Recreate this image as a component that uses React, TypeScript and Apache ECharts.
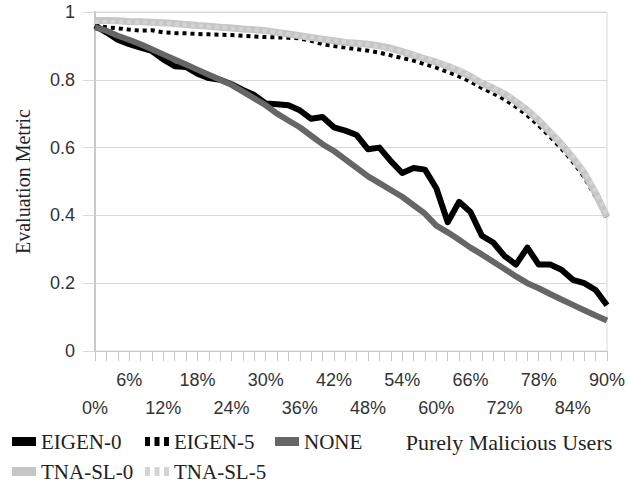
import React, { useEffect, useRef } from "react";
import * as echarts from "echarts";

const categories = [
  "0%", "2%", "4%", "6%", "8%", "10%", "12%", "14%", "16%", "18%",
  "20%", "22%", "24%", "26%", "28%", "30%", "32%", "34%", "36%", "38%",
  "40%", "42%", "44%", "46%", "48%", "50%", "52%", "54%", "56%", "58%",
  "60%", "62%", "64%", "66%", "68%", "70%", "72%", "74%", "76%", "78%",
  "80%", "82%", "84%", "86%", "88%", "90%",
];

const eigen0 = [
  0.96, 0.94, 0.918, 0.905, 0.895, 0.885, 0.86, 0.84, 0.838, 0.818,
  0.805, 0.8, 0.787, 0.77, 0.755, 0.73, 0.728, 0.725, 0.71, 0.685,
  0.69, 0.66, 0.65, 0.637, 0.595, 0.6, 0.56, 0.525, 0.54, 0.535,
  0.48, 0.38, 0.44, 0.41, 0.34, 0.32, 0.28, 0.255, 0.305, 0.255,
  0.255, 0.24, 0.21, 0.2, 0.18, 0.135,
];

const eigen5 = [
  0.96, 0.955, 0.952, 0.948, 0.945, 0.946, 0.94, 0.938, 0.937, 0.935,
  0.934, 0.933, 0.932, 0.93, 0.928, 0.926, 0.925, 0.924, 0.922, 0.915,
  0.905, 0.9, 0.895, 0.89, 0.886, 0.88, 0.872, 0.864, 0.857, 0.846,
  0.836, 0.823, 0.81, 0.795, 0.776, 0.76, 0.742, 0.72, 0.695, 0.665,
  0.632, 0.597, 0.558, 0.513, 0.455, 0.395,
];

const none = [
  0.955, 0.945, 0.93, 0.918, 0.905, 0.89, 0.875, 0.86, 0.845, 0.83,
  0.815, 0.8, 0.785, 0.765, 0.745, 0.725, 0.7, 0.68, 0.66, 0.635,
  0.61, 0.59, 0.565, 0.54, 0.515, 0.495, 0.475, 0.455, 0.43, 0.405,
  0.37, 0.35, 0.328, 0.305, 0.285, 0.263, 0.242, 0.22, 0.2, 0.185,
  0.168, 0.152, 0.136, 0.12, 0.105, 0.09,
];

const tnaSl0 = [
  0.975, 0.975, 0.974, 0.972, 0.971, 0.97, 0.968, 0.966, 0.963, 0.96,
  0.958, 0.955, 0.953, 0.95, 0.948, 0.945, 0.94, 0.935, 0.93, 0.925,
  0.92, 0.915, 0.91, 0.908, 0.905, 0.9, 0.893, 0.883, 0.873, 0.862,
  0.852, 0.84, 0.826, 0.81, 0.79, 0.775, 0.758, 0.735, 0.71, 0.68,
  0.645, 0.61, 0.57, 0.525, 0.465, 0.395,
];

const tnaSl5 = [
  0.97, 0.972, 0.971, 0.97, 0.97, 0.968, 0.967, 0.965, 0.962, 0.96,
  0.957, 0.955, 0.952, 0.95, 0.947, 0.944, 0.94, 0.935, 0.93, 0.926,
  0.92, 0.916, 0.912, 0.908, 0.904, 0.898, 0.892, 0.884, 0.875, 0.864,
  0.855, 0.843, 0.83, 0.812, 0.795, 0.778, 0.76, 0.74, 0.713, 0.685,
  0.65, 0.612, 0.575, 0.53, 0.47, 0.4,
];

const yTicks = { min: 0, max: 1, interval: 0.2 };
const labelEvery = 3;

const SERIF = "'Liberation Serif', 'DejaVu Serif', serif";
const SANS = "'Liberation Sans', Arial, sans-serif";
const DOTS = "path://M0,0h5v9h-5z M9.5,0h5v9h-5z M19,0h5v9h-5z";

export default function App() {
  const ref = useRef<HTMLDivElement>(null);

  useEffect(() => {
    if (!ref.current) return;
    const chart = echarts.init(ref.current, undefined, { renderer: "svg" });

    const legendText = { fontFamily: SERIF, fontSize: 21, color: "#222" };
    const mkLegend = (name: string, icon: string, left: number, top: number) => ({
      data: [{ name, icon }],
      left,
      top,
      itemWidth: 24,
      itemHeight: 9,
      itemGap: 0,
      padding: 0,
      textStyle: legendText,
      itemStyle: { borderWidth: 0 },
    });

    const mkLine = (name: string, data: number[], color: string, width: number, dotted: boolean) => ({
      name,
      type: "line",
      data,
      color,
      symbol: "none",
      lineStyle: {
        color,
        width,
        type: dotted ? [4, 4] : "solid",
        cap: "butt",
        join: "round",
      },
    });

    chart.setOption({
      animation: false,
      backgroundColor: "#ffffff",
      grid: {
        left: 95,
        right: 22,
        top: 12,
        bottom: 132,
        show: true,
        borderColor: "#d9d9d9",
        borderWidth: 1,
        backgroundColor: "transparent",
      },
      legend: [
        mkLegend("EIGEN-0", "rect", 12, 431),
        mkLegend("EIGEN-5", DOTS, 145, 431),
        mkLegend("NONE", "rect", 275, 431),
        mkLegend("TNA-SL-0", "rect", 12, 461),
        mkLegend("TNA-SL-5", DOTS, 145, 461),
      ],
      xAxis: {
        type: "category",
        data: categories,
        boundaryGap: false,
        name: "Purely Malicious Users",
        nameLocation: "middle",
        nameGap: 80,
        nameTextStyle: {
          fontFamily: SERIF,
          fontSize: 22,
          color: "#222",
          padding: [0, 0, 0, 316],
        },
        axisLine: { show: true, lineStyle: { color: "#c8c8c8", width: 1 } },
        axisTick: {
          show: true,
          interval: 0,
          length: 10,
          lineStyle: { color: "#c8c8c8", width: 1 },
        },
        axisLabel: {
          interval: 0,
          hideOverlap: false,
          margin: 15,
          fontFamily: SANS,
          fontSize: 18,
          color: "#333",
          lineHeight: 28,
          formatter: (v: string, idx: number) => {
            if (idx % labelEvery !== 0) return "";
            return (idx / labelEvery) % 2 === 0 ? "\n" + v : v;
          },
        },
        splitLine: { show: false },
      },
      yAxis: {
        type: "value",
        min: yTicks.min,
        max: yTicks.max,
        interval: yTicks.interval,
        name: "Evaluation Metric",
        nameLocation: "middle",
        nameGap: 62,
        nameTextStyle: { fontFamily: SERIF, fontSize: 20, color: "#222" },
        axisLine: { show: true, lineStyle: { color: "#c8c8c8", width: 2 } },
        axisTick: { show: true, length: 12, lineStyle: { color: "#d9d9d9" } },
        axisLabel: {
          margin: 20,
          fontFamily: SANS,
          fontSize: 18,
          color: "#333",
        },
        splitLine: { show: true, lineStyle: { color: "#d9d9d9", width: 1 } },
      },
      series: [
        mkLine("EIGEN-0", eigen0, "#000000", 6, false),
        mkLine("EIGEN-5", eigen5, "#000000", 4, true),
        mkLine("NONE", none, "#666666", 6, false),
        mkLine("TNA-SL-0", tnaSl0, "#c6c6c6", 7, false),
        mkLine("TNA-SL-5", tnaSl5, "#d4d4d4", 4, true),
      ],
    });

    return () => chart.dispose();
  }, []);

  return (
    <div
      ref={ref}
      style={{ position: "fixed", left: 0, top: 0, width: 629, height: 483 }}
    />
  );
}
